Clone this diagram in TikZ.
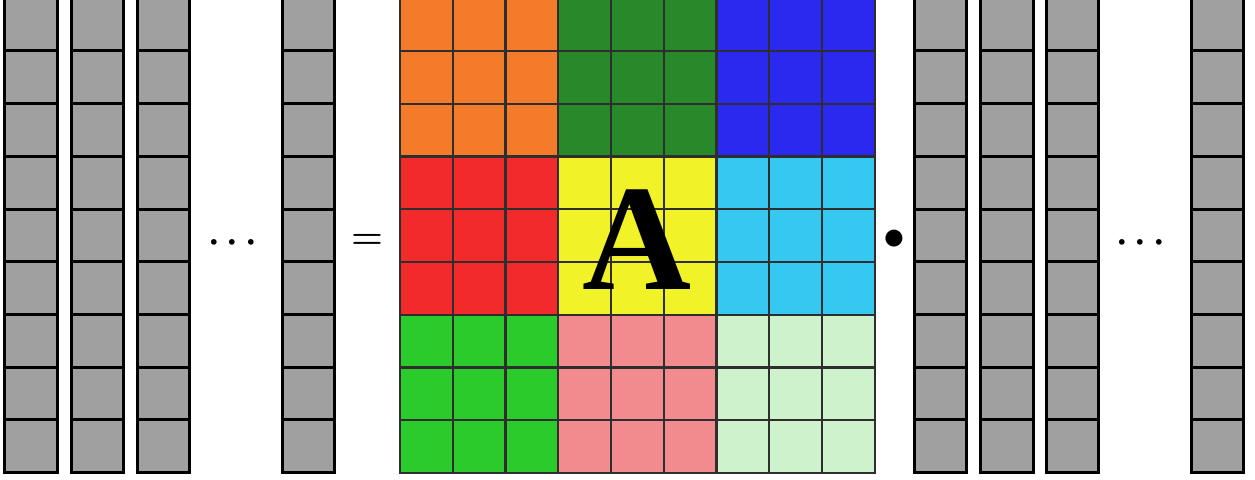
\documentclass[tikz,border=0pt]{standalone}
\usepackage{fontspec}
\usepackage{amsmath}
\newfontfamily\letterfont{Liberation Serif}
\definecolor{cellgray}{HTML}{A0A0A0}
\definecolor{gridline}{HTML}{2E2E2E}
\definecolor{blk1}{HTML}{F47B29}
\definecolor{blk2}{HTML}{27892A}
\definecolor{blk3}{HTML}{2B28F0}
\definecolor{blk4}{HTML}{F22A2B}
\definecolor{blk5}{HTML}{F2F229}
\definecolor{blk6}{HTML}{35C9F2}
\definecolor{blk7}{HTML}{2BCB2B}
\definecolor{blk8}{HTML}{F28B8E}
\definecolor{blk9}{HTML}{CDF2CC}

\begin{document}
\begin{tikzpicture}[
    x=0.02cm, y=-0.02cm,
    vcell/.style={rectangle, draw=black, fill=cellgray, line width=1.7pt,
                  minimum width=1.054cm, minimum height=1.054cm, inner sep=0pt},
    gcell/.style={rectangle, draw=gridline, line width=1.4pt,
                  minimum width=1.055cm, minimum height=1.055cm, inner sep=0pt},
    sym/.style={font=\fontsize{21}{21}\selectfont\boldmath, anchor=base, inner sep=0pt}
]
\useasboundingbox (0,0) rectangle (1255,480);

% Left vectors
\foreach \c/\x in {1/31, 2/97.5, 3/163.5, 4/308.5}{
  \foreach \r in {1,...,9}{
    \node[vcell] (l\c-\r) at (\x, {472.5-52.7*(9-\r)-26.35}) {};
  }
}

% Matrix A
\foreach \i in {1,...,9}{
  \foreach \j in {1,...,9}{
    \pgfmathtruncatemacro{\b}{3*int((\i-1)/3)+int((\j-1)/3)+1}
    \node[gcell, fill=blk\b] (a\i-\j) at ({400+52.75*(\j-0.5)}, {-1.75+52.75*(\i-0.5)}) {};
  }
}
\node[font=\letterfont\bfseries\fontsize{86}{86}\selectfont, anchor=base, inner sep=0pt]
  (letter) at (637.5, 289.3) {A};

% Right vectors
\foreach \c/\x in {1/940.5, 2/1007, 3/1072.5, 4/1217.5}{
  \foreach \r in {1,...,9}{
    \node[vcell] (r\c-\r) at (\x, {472.5-52.7*(9-\r)-26.35}) {};
  }
}

% Symbols
\node[sym] (dotsL) at (236, 251.5) {$\cdots$};
\node[sym] (eq) at (367, 248.7) {$=$};
\node[sym, font=\fontsize{24}{24}\selectfont] (prod) at (894, 249) {$\bullet$};
\node[sym] (dotsR) at (1144, 251.5) {$\cdots$};

\end{tikzpicture}
\end{document}
